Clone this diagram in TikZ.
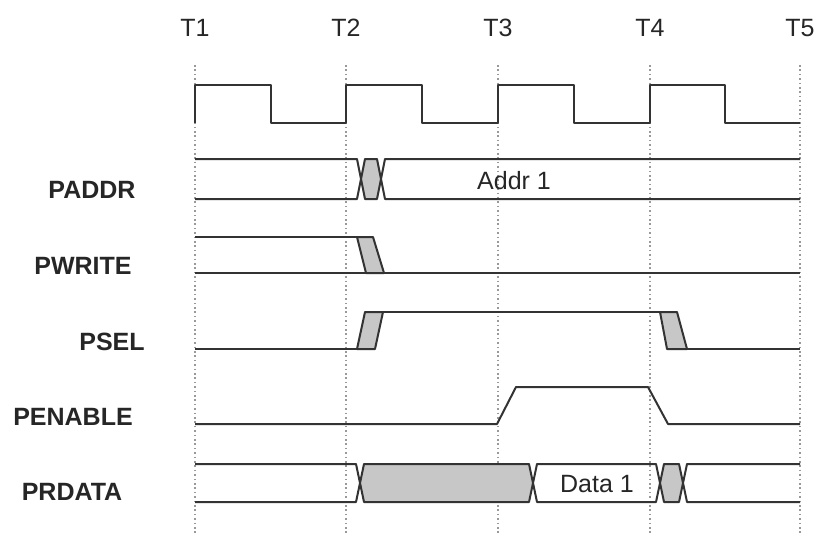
\documentclass[tikz,border=0pt]{standalone}
\usepackage{fontspec}
\setmainfont{Liberation Sans}
\usepackage{tikz}

\begin{document}
\begin{tikzpicture}[
        x=0.5pt, y=-0.5pt,
        sig/.style={draw=black!80, line width=1pt, line join=round},
        busfill/.style={fill=black!22},
        gridline/.style={draw=black!40, line width=0.6pt, dash pattern=on 0.8pt off 1.4pt},
        tick/.style={font=\fontsize{12.5}{15}\selectfont, text=black!85},
        signame/.style={font=\fontsize{12.5}{15}\selectfont\bfseries, text=black!85},
        value/.style={font=\fontsize{12.5}{15}\selectfont, text=black!85}
    ]
        \useasboundingbox (0,0) rectangle (818,535);

        % Time marks
        \foreach \t/\xx in {1/195, 2/346, 3/498, 4/650, 5/800} {
            \draw [gridline] (\xx,65) -- (\xx,535);
            \node [tick] (t\t) at (\xx,28) {T\t};
        }

        % Clock
        \draw [sig] (195,123) -- (195,85) -- (271,85) -- (271,123) -- (346,123)
            -- (346,85) -- (422,85) -- (422,123) -- (498,123)
            -- (498,85) -- (574,85) -- (574,123) -- (650,123)
            -- (650,85) -- (725,85) -- (725,123) -- (800,123);

        % Signal names
        \node [signame] (paddr) at (92,190) {PADDR};
        \node [signame] (pwrite) at (83,266) {PWRITE};
        \node [signame] (psel) at (112,342) {PSEL};
        \node [signame] (penable) at (73,417) {PENABLE};
        \node [signame] (prdata) at (72,492) {PRDATA};

        % PADDR
        \fill [busfill] (361,179) -- (365,159) -- (377,159) -- (381,179) -- (377,199) -- (365,199) -- cycle;
        \draw [sig] (195,159) -- (357,159) -- (365,199) -- (377,199) -- (385,159) -- (800,159);
        \draw [sig] (195,199) -- (357,199) -- (365,159) -- (377,159) -- (385,199) -- (800,199);
        \node [value] (addr) at (514,181) {Addr 1};

        % PWRITE
        \draw [sig] (195,237) -- (357,237);
        \draw [sig] (195,273) -- (800,273);
        \filldraw [sig, busfill] (357,237) -- (373,237) -- (384,273) -- (366,273) -- cycle;

        % PSEL
        \draw [sig] (195,349) -- (357,349);
        \filldraw [sig, busfill] (357,349) -- (365,312) -- (383,312) -- (375,349) -- cycle;
        \draw [sig] (383,312) -- (660,312);
        \filldraw [sig, busfill] (660,312) -- (677,312) -- (687,349) -- (667,349) -- cycle;
        \draw [sig] (687,349) -- (800,349);

        % PENABLE
        \draw [sig] (195,424) -- (497,424) -- (516,387) -- (648,387) -- (668,424) -- (800,424);

        % PRDATA
        \fill [busfill] (360,483) -- (364,464) -- (529,464) -- (533,483) -- (529,502) -- (364,502) -- cycle;
        \fill [busfill] (660,483) -- (664,464) -- (679,464) -- (683,483) -- (679,502) -- (664,502) -- cycle;
        \draw [sig] (195,464) -- (356,464) -- (364,502) -- (529,502) -- (537,464) -- (656,464)
            -- (664,502) -- (679,502) -- (687,464) -- (800,464);
        \draw [sig] (195,502) -- (356,502) -- (364,464) -- (529,464) -- (537,502) -- (656,502)
            -- (664,464) -- (679,464) -- (687,502) -- (800,502);
        \node [value] (data) at (597,484) {Data 1};

    \end{tikzpicture}
\end{document}
